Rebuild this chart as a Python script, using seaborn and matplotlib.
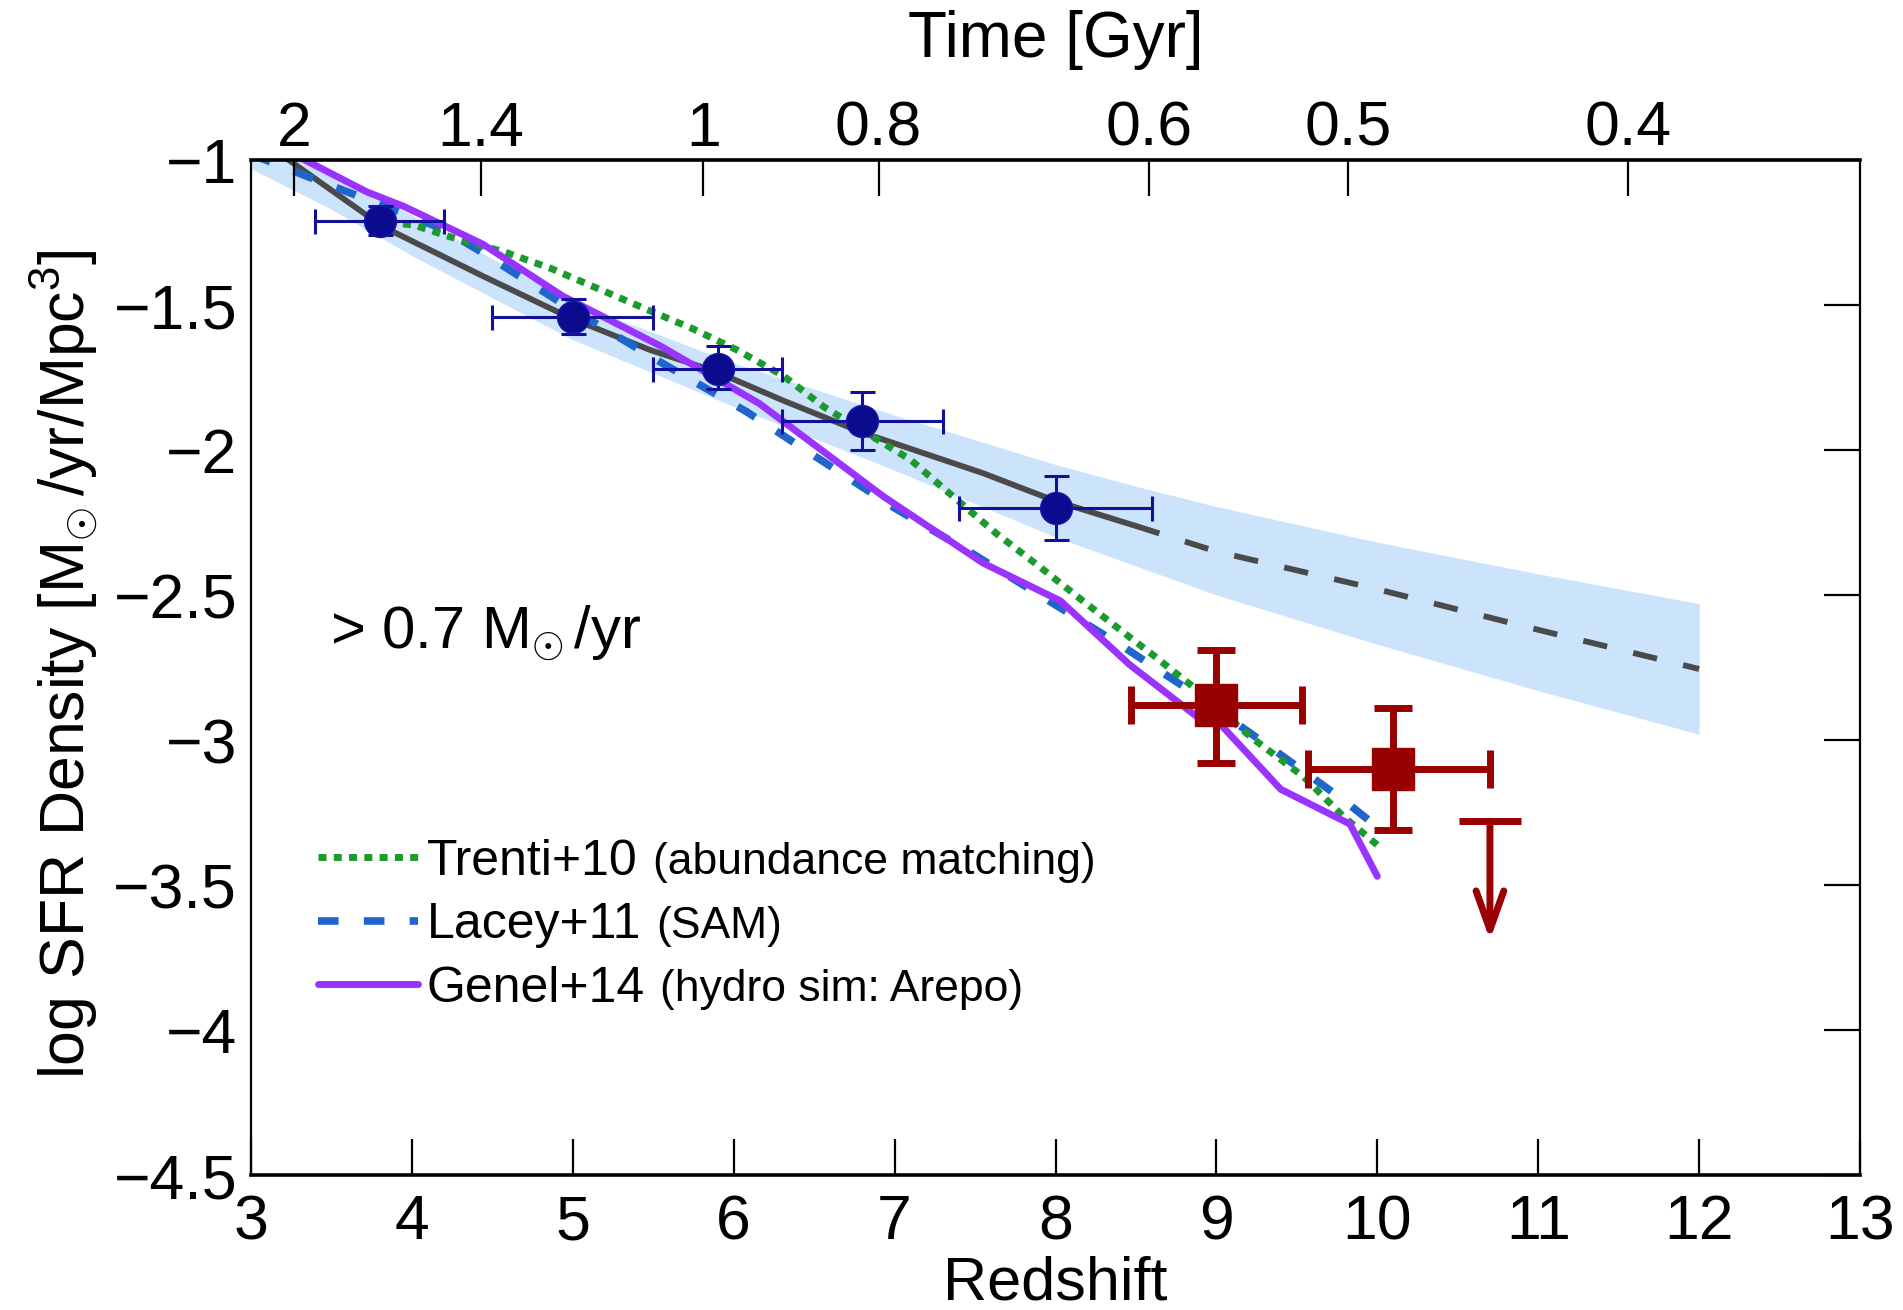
import matplotlib
matplotlib.use("Agg")
import matplotlib.pyplot as plt
import matplotlib.transforms as mtransforms
import seaborn as sns
import numpy as np
from matplotlib.patches import ArrowStyle

# ---------------- data ----------------
# observed points (z ~ 4-8)
obs_z = [3.8, 5.0, 5.9, 6.8, 8.0]
obs_sfr = [-1.21, -1.54, -1.72, -1.90, -2.20]
obs_z_lo = [3.4, 4.5, 5.5, 6.3, 7.4]
obs_z_hi = [4.2, 5.5, 6.3, 7.3, 8.6]
obs_sfr_lo = [-1.26, -1.60, -1.79, -2.00, -2.31]
obs_sfr_hi = [-1.16, -1.48, -1.64, -1.80, -2.09]

# high-z points (z ~ 9-10)
hz_z = [9.0, 10.1]
hz_sfr = [-2.88, -3.10]
hz_z_lo = [8.47, 9.57]
hz_z_hi = [9.53, 10.70]
hz_sfr_lo = [-3.08, -3.31]
hz_sfr_hi = [-2.69, -2.89]

# upper limit
ul_z = [10.7]
ul_sfr = [-3.28]
ul_zerr = [0.19]
ul_arrow_len = 0.41

# fit (solid up to z=8.5, dashed extrapolation beyond)
fit_z = [3.0, 3.26, 3.82, 4.44, 4.99, 5.48, 5.89, 6.31, 6.8, 7.55, 8.0, 8.5,
         9.0, 10.0, 11.0, 12.0]
fit_sfr = [-0.91, -1.01, -1.23, -1.40, -1.546, -1.655, -1.73, -1.83, -1.94,
           -2.08, -2.176, -2.262, -2.35, -2.48, -2.62, -2.755]
fit_break_z = 8.5

# uncertainty band
band_z = [3.0, 3.5, 4.0, 5.0, 6.0, 7.0, 8.0, 8.5, 9.0, 10.0, 11.0, 12.0]
band_lo = [-1.03, -1.17, -1.33, -1.62, -1.85, -2.07, -2.30, -2.40, -2.50, -2.67, -2.83, -2.98]
band_hi = [-0.85, -1.04, -1.19, -1.49, -1.70, -1.88, -2.05, -2.125, -2.195, -2.318, -2.427, -2.53]

# models
trenti_z = [3.85, 4.01, 4.30, 4.57, 4.86, 5.15, 5.48, 5.75, 6.02, 6.31, 6.56, 6.83,
            7.10, 7.34, 7.63, 7.90, 8.19, 8.46, 8.59, 8.84, 9.21, 9.54, 9.79, 10.0]
trenti_sfr = [-1.215, -1.224, -1.276, -1.316, -1.373, -1.442, -1.52, -1.583, -1.655,
              -1.745, -1.851, -1.943, -2.034, -2.149, -2.287, -2.402, -2.529, -2.645,
              -2.70, -2.81, -2.988, -3.126, -3.264, -3.362]

lacey_z = [3.0, 3.41, 3.93, 4.2, 4.44, 4.92, 5.6, 6.08, 6.54, 7.0, 7.48, 7.95,
           8.42, 8.86, 9.33, 9.79, 10.0]
lacey_sfr = [-0.98, -1.07, -1.18, -1.24, -1.32, -1.49, -1.715, -1.868, -2.034,
             -2.20, -2.356, -2.517, -2.678, -2.839, -3.023, -3.207, -3.30]

genel_z = [3.30, 3.72, 3.95, 4.44, 4.94, 5.54, 6.16, 6.93, 7.55, 8.03, 8.46,
           8.88, 9.04, 9.40, 9.83, 10.0]
genel_sfr = [-0.99, -1.11, -1.16, -1.29, -1.47, -1.64, -1.84, -2.16, -2.39, -2.52,
             -2.74, -2.92, -2.955, -3.17, -3.29, -3.47]

legend_main = ["Trenti+10", "Lacey+11", "Genel+14"]
legend_note = ["(abundance matching)", "(SAM)", "(hydro sim: Arepo)"]

x_ticks = [3, 4, 5, 6, 7, 8, 9, 10, 11, 12, 13]
y_ticks = [-1, -1.5, -2, -2.5, -3, -3.5, -4, -4.5]
y_tick_labels = ["\u22121", "\u22121.5", "\u22122", "\u22122.5", "\u22123",
                 "\u22123.5", "\u22124", "\u22124.5"]
time_tick_z = [3.27, 4.43, 5.81, 6.90, 8.58, 9.82, 11.56]
time_tick_labels = ["2", "1.4", "1", "0.8", "0.6", "0.5", "0.4"]

# ---------------- style ----------------
sns.set_style("white")
plt.rcParams['font.family'] = ['Liberation Sans', 'DejaVu Sans']
plt.rcParams['mathtext.fontset'] = 'custom'
plt.rcParams['mathtext.rm'] = 'Liberation Sans'
plt.rcParams['mathtext.it'] = 'Liberation Sans:italic'
plt.rcParams['mathtext.bf'] = 'Liberation Sans:bold'
for k in ['text.color', 'axes.labelcolor', 'xtick.color', 'ytick.color',
          'axes.edgecolor']:
    plt.rcParams[k] = 'black'

GREY = '#4a4a4a'
BAND = '#cce3fc'
NAVY = '#0b0b8f'
RED = '#990000'
GREEN = '#1b9a2e'
BLUE = '#1f66cc'
PURPLE = '#9b33ff'

fig = plt.figure(figsize=(19.03, 13.10), dpi=100)
ax = fig.add_axes([0.1319, 0.10305, 0.84551, 0.77481])

# band
ax.fill_between(band_z, band_lo, band_hi, color=BAND, lw=0, zorder=1)

# fit line
fz = np.array(fit_z)
fs = np.array(fit_sfr)
solid = fz <= fit_break_z
dashed = fz >= fit_break_z
sns.lineplot(x=fz[solid], y=fs[solid], ax=ax, color=GREY, lw=4.2,
             estimator=None, sort=False, zorder=2)
sns.lineplot(x=fz[dashed], y=fs[dashed], ax=ax, color=GREY, lw=4.2,
             linestyle=(0, (4.2, 4.6)), estimator=None, sort=False, zorder=2)

# models
l_lacey = sns.lineplot(x=lacey_z, y=lacey_sfr, ax=ax, color=BLUE, lw=5.5,
                       linestyle=(0, (2.7, 3.3)), estimator=None, sort=False,
                       zorder=3).lines[-1]
l_trenti = sns.lineplot(x=trenti_z, y=trenti_sfr, ax=ax, color=GREEN, lw=5,
                        linestyle=(0, (1.15, 1.05)), estimator=None, sort=False,
                        zorder=4).lines[-1]
l_genel = sns.lineplot(x=genel_z, y=genel_sfr, ax=ax, color=PURPLE, lw=5,
                       estimator=None, sort=False, zorder=5).lines[-1]

# observed points
oz = np.array(obs_z); osf = np.array(obs_sfr)
ax.errorbar(oz, osf,
            xerr=[oz - np.array(obs_z_lo), np.array(obs_z_hi) - oz],
            yerr=[osf - np.array(obs_sfr_lo), np.array(obs_sfr_hi) - osf],
            fmt='o', ms=23, mfc=NAVY, mec='#1818a8',
            ecolor='#10109a', elinewidth=2.2, capsize=9, capthick=2.2, zorder=6)

hz = np.array(hz_z); hs = np.array(hz_sfr)
ax.errorbar(hz, hs,
            xerr=[hz - np.array(hz_z_lo), np.array(hz_z_hi) - hz],
            yerr=[hs - np.array(hz_sfr_lo), np.array(hz_sfr_hi) - hs],
            fmt='s', ms=30, mfc=RED, mec=RED,
            ecolor=RED, elinewidth=5, capsize=14, capthick=5, zorder=6)

# upper limit
ax.errorbar(ul_z, ul_sfr, xerr=ul_zerr, fmt='none', ecolor=RED,
            elinewidth=5, capsize=0, zorder=6)
for zz, ss in zip(ul_z, ul_sfr):
    ax.annotate("", xy=(zz, ss - ul_arrow_len), xytext=(zz, ss),
                arrowprops=dict(arrowstyle=ArrowStyle('->', head_length=2.8, head_width=1.0),
                                color=RED, lw=5, shrinkA=0, shrinkB=0),
                zorder=6)

# axes
ax.set_xlim(3, 13)
ax.set_ylim(-4.5, -1)
ax.set_xticks(x_ticks)
ax.set_xticklabels([str(t) for t in x_ticks])
ax.set_yticks(y_ticks)
ax.set_yticklabels(y_tick_labels)
ax.tick_params(axis='both', which='major', direction='in', length=26, width=1.6,
               labelsize=45, color='black', labelcolor='black')
ax.tick_params(axis='x', pad=13, top=False)
ax.tick_params(axis='y', pad=10, right=True)
for side in ['top', 'bottom']:
    ax.spines[side].set_linewidth(2.6)
for side in ['left', 'right']:
    ax.spines[side].set_linewidth(1.6)
for s in ax.spines.values():
    s.set_color('black')
    s.set_zorder(10)

ax.set_xlabel("Redshift", fontsize=44)
ax.xaxis.set_label_coords(0.5, -0.079)
ax.set_ylabel(r"log SFR Density [M$_{\odot}\,$/yr/Mpc$^3$]", fontsize=45)
ax.yaxis.set_label_coords(-0.094, 0.503)

ax2 = ax.twiny()
ax2.set_xlim(ax.get_xlim())
ax2.set_xticks(time_tick_z)
ax2.set_xticklabels(time_tick_labels)
ax2.tick_params(axis='x', direction='in', length=26, width=1.6, labelsize=45,
                pad=1, color='black', labelcolor='black')
ax2.set_xlabel("Time [Gyr]", fontsize=46)
ax2.xaxis.set_label_coords(0.5, 1.101)
for s in ax2.spines.values():
    s.set_visible(False)

ax.text(0.049, 0.519, r"> 0.7 M$_{\odot}\,$/yr", transform=ax.transAxes,
        fontsize=43, ha='left', va='baseline')

# legend
leg = ax.legend([l_trenti, l_lacey, l_genel], legend_main, loc='center left',
                bbox_to_anchor=(0.0416, 0.246), frameon=False, fontsize=36,
                handlelength=2.0, handletextpad=0.18, labelspacing=0.35,
                borderpad=0, borderaxespad=0)

fig.canvas.draw()
renderer = fig.canvas.get_renderer()
for txt, note in zip(leg.get_texts(), legend_note):
    bb = txt.get_window_extent(renderer)
    fig.text(bb.x1 + 15, bb.y0 + 1.5, note, transform=mtransforms.IdentityTransform(),
             fontsize=32, ha='left', va='bottom')

fig.savefig("out.png", dpi=100)
